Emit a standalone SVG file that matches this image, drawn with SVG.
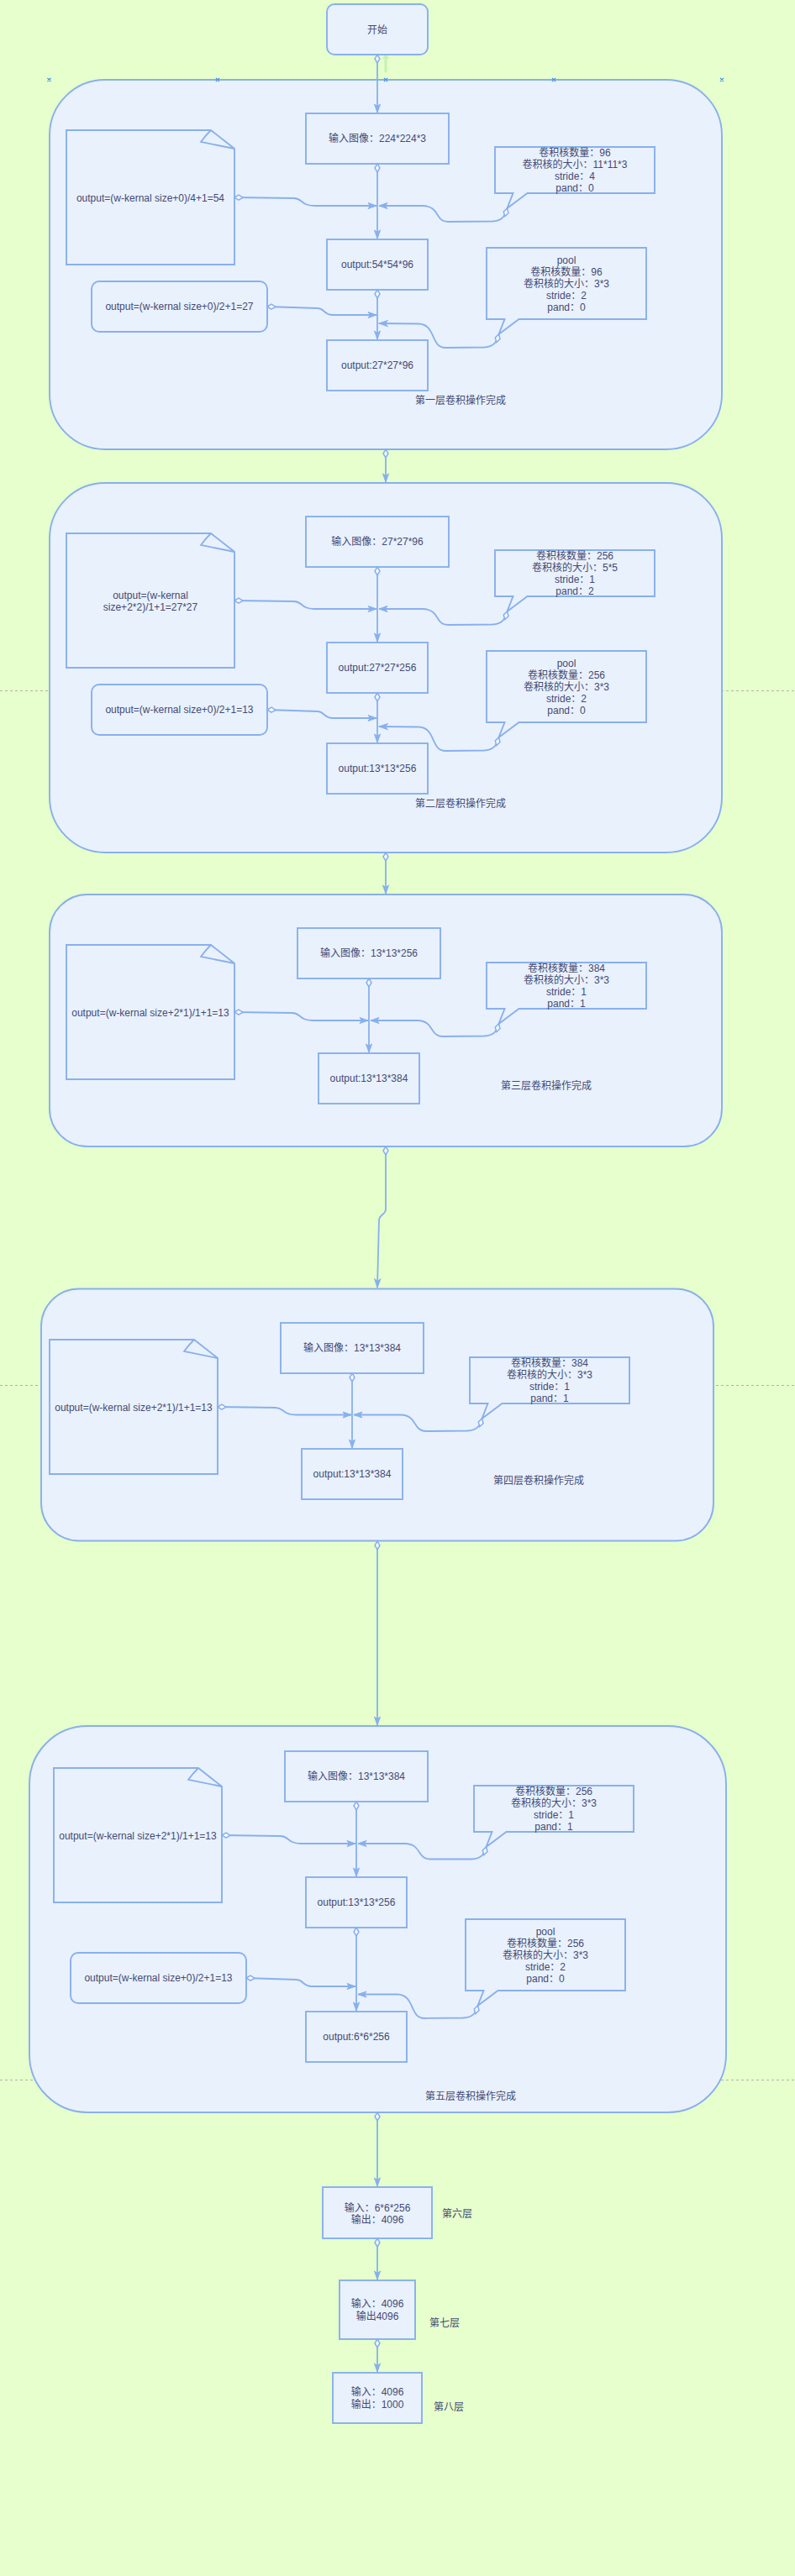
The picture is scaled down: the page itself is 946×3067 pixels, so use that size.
<svg xmlns="http://www.w3.org/2000/svg" width="946" height="3067" viewBox="0 0 946 3067">
<style>
.bg{fill:#E6FFCC}
.box{fill:#E9F1FD;stroke:#88B0EC;stroke-width:1.9}
.t{font-family:"Liberation Sans","Noto Sans CJK SC",sans-serif;font-size:12px;fill:#434A72;text-anchor:middle}
.c{fill:none;stroke:#88B0EC;stroke-width:1.8}
.cd{marker-start:url(#d);marker-end:url(#a)}
.pb{stroke:#B4B4A8;stroke-width:1;stroke-dasharray:3 3}
.xm{stroke:#3D8FE0;stroke-width:1.2}
</style>
<defs>
<marker id="a" viewBox="0 0 10 8" refX="10" refY="4" markerWidth="10" markerHeight="8" markerUnits="userSpaceOnUse" orient="auto" style="overflow:visible"><path d="M0,0.5 L10,4 L0,7.5 L2.5,4 Z" fill="#88B0EC" stroke="#88B0EC" stroke-width="1"/></marker>
<marker id="d" viewBox="0 0 12 8" refX="1" refY="4" markerWidth="12" markerHeight="8" markerUnits="userSpaceOnUse" orient="auto" style="overflow:visible"><path d="M1,4 L6,1 L11,4 L6,7 Z" fill="#F5F9FF" stroke="#88B0EC" stroke-width="1.5"/></marker>
</defs>
<rect class="bg" x="0" y="0" width="946" height="3067"/>
<g id="pagebreaks">
<line class="pb" x1="0" y1="822.5" x2="946" y2="822.5"/>
<line class="pb" x1="0" y1="1649.5" x2="946" y2="1649.5"/>
<line class="pb" x1="0" y1="2476.5" x2="946" y2="2476.5"/>
</g>

<g id="layer1">
<rect class="box" x="59" y="95" width="800" height="440" rx="66"/>
<text class="t" x="548" y="481">第一层卷积操作完成</text>
</g>
<g id="layer2">
<rect class="box" x="59" y="575" width="800" height="440" rx="66"/>
<text class="t" x="548" y="961">第二层卷积操作完成</text>
</g>
<g id="layer3">
<rect class="box" x="59" y="1065" width="800" height="300" rx="45"/>
<text class="t" x="650" y="1297">第三层卷积操作完成</text>
</g>
<g id="layer4">
<rect class="box" x="49" y="1534.5" width="800" height="300" rx="45"/>
<text class="t" x="641" y="1767">第四层卷积操作完成</text>
</g>
<g id="layer5">
<rect class="box" x="35" y="2055" width="829" height="460" rx="69"/>
<text class="t" x="560" y="2500">第五层卷积操作完成</text>
</g>

<g id="markers-x">
<path class="xm" d="M56.5,93 l4,4 m0,-4 l-4,4 M257,93 l4,4 m0,-4 l-4,4 M457,93 l4,4 m0,-4 l-4,4 M657,93 l4,4 m0,-4 l-4,4 M857,93 l4,4 m0,-4 l-4,4"/>
</g>
<g id="hint">
<path d="M459,86 V69" stroke="#C6F1B2" stroke-width="3" fill="none"/>
<path d="M455,70 L459,63 L463,70 Z" fill="#C6F1B2"/>
</g>

<g id="start"><rect class="box" x="389" y="5" width="120" height="60" rx="9"/><text class="t" x="449" y="40">开始</text></g>

<g id="l1-input"><rect class="box" x="364" y="135" width="170" height="60"/><text class="t" x="449" y="169">输入图像：224*224*3</text></g>
<g id="l1-out1"><rect class="box" x="389" y="285" width="120" height="60"/><text class="t" x="449" y="319">output:54*54*96</text></g>
<g id="l1-out2"><rect class="box" x="389" y="405" width="120" height="60"/><text class="t" x="449" y="439">output:27*27*96</text></g>
<g id="l1-note1"><path class="box" d="M79,155 H251 L279,177 V315 H79 Z"/><path class="c" d="M251,155 Q244,162 239,169 L279,177"/><text class="t" x="179" y="239.5">output=(w-kernal size+0)/4+1=54</text></g>
<g id="l1-call1"><path class="box" d="M589,175 H779 V230 H627.5 L603.5,248 L610.5,230 H589 Z"/>
<text class="t" x="684" y="185.5">卷积核数量：96</text><text class="t" x="684" y="199.5">卷积核的大小：11*11*3</text><text class="t" x="684" y="213.5">stride：4</text><text class="t" x="684" y="227.5">pand：0</text></g>
<g id="l1-note2"><rect class="box" x="109" y="335" width="209" height="60" rx="9"/><text class="t" x="213.5" y="369">output=(w-kernal size+0)/2+1=27</text></g>
<g id="l1-call2"><path class="box" d="M579,295 H769 V380 H617.5 L593.5,398 L600.5,380 H579 Z"/>
<text class="t" x="674" y="313.5">pool</text><text class="t" x="674" y="327.5">卷积核数量：96</text><text class="t" x="674" y="341.5">卷积核的大小：3*3</text><text class="t" x="674" y="355.5">stride：2</text><text class="t" x="674" y="369.5">pand：0</text></g>

<g id="l2-input"><rect class="box" x="364" y="615" width="170" height="60"/><text class="t" x="449" y="649">输入图像：27*27*96</text></g>
<g id="l2-out1"><rect class="box" x="389" y="765" width="120" height="60"/><text class="t" x="449" y="799">output:27*27*256</text></g>
<g id="l2-out2"><rect class="box" x="389" y="885" width="120" height="60"/><text class="t" x="449" y="919">output:13*13*256</text></g>
<g id="l2-note1"><path class="box" d="M79,635 H251 L279,657 V795 H79 Z"/><path class="c" d="M251,635 Q244,642 239,649 L279,657"/><text class="t" x="179" y="712.5">output=(w-kernal</text><text class="t" x="179" y="726.5">size+2*2)/1+1=27*27</text></g>
<g id="l2-call1"><path class="box" d="M589,655 H779 V710 H627.5 L603.5,728 L610.5,710 H589 Z"/>
<text class="t" x="684" y="665.5">卷积核数量：256</text><text class="t" x="684" y="679.5">卷积核的大小：5*5</text><text class="t" x="684" y="693.5">stride：1</text><text class="t" x="684" y="707.5">pand：2</text></g>
<g id="l2-note2"><rect class="box" x="109" y="815" width="209" height="60" rx="9"/><text class="t" x="213.5" y="849">output=(w-kernal size+0)/2+1=13</text></g>
<g id="l2-call2"><path class="box" d="M579,775 H769 V860 H617.5 L593.5,878 L600.5,860 H579 Z"/>
<text class="t" x="674" y="793.5">pool</text><text class="t" x="674" y="807.5">卷积核数量：256</text><text class="t" x="674" y="821.5">卷积核的大小：3*3</text><text class="t" x="674" y="835.5">stride：2</text><text class="t" x="674" y="849.5">pand：0</text></g>

<g id="l3-input"><rect class="box" x="354" y="1105" width="170" height="60"/><text class="t" x="439" y="1139">输入图像：13*13*256</text></g>
<g id="l3-out"><rect class="box" x="379" y="1254" width="120" height="60"/><text class="t" x="439" y="1288">output:13*13*384</text></g>
<g id="l3-note"><path class="box" d="M79,1125 H251 L279,1147 V1285 H79 Z"/><path class="c" d="M251,1125 Q244,1132 239,1139 L279,1147"/><text class="t" x="179" y="1209.5">output=(w-kernal size+2*1)/1+1=13</text></g>
<g id="l3-call"><path class="box" d="M579,1146 H769 V1201 H617.5 L593.5,1219 L600.5,1201 H579 Z"/>
<text class="t" x="674" y="1156.5">卷积核数量：384</text><text class="t" x="674" y="1170.5">卷积核的大小：3*3</text><text class="t" x="674" y="1184.5">stride：1</text><text class="t" x="674" y="1198.5">pand：1</text></g>

<g id="l4-input"><rect class="box" x="334" y="1575" width="170" height="60"/><text class="t" x="419" y="1609">输入图像：13*13*384</text></g>
<g id="l4-out"><rect class="box" x="359" y="1725" width="120" height="60"/><text class="t" x="419" y="1759">output:13*13*384</text></g>
<g id="l4-note"><path class="box" d="M59,1595 H231 L259,1617 V1755 H59 Z"/><path class="c" d="M231,1595 Q224,1602 219,1609 L259,1617"/><text class="t" x="159" y="1679.5">output=(w-kernal size+2*1)/1+1=13</text></g>
<g id="l4-call"><path class="box" d="M559,1616 H749 V1671 H597.5 L573.5,1689 L580.5,1671 H559 Z"/>
<text class="t" x="654" y="1626.5">卷积核数量：384</text><text class="t" x="654" y="1640.5">卷积核的大小：3*3</text><text class="t" x="654" y="1654.5">stride：1</text><text class="t" x="654" y="1668.5">pand：1</text></g>

<g id="l5-input"><rect class="box" x="339" y="2085" width="170" height="60"/><text class="t" x="424" y="2119">输入图像：13*13*384</text></g>
<g id="l5-out1"><rect class="box" x="364" y="2235" width="120" height="60"/><text class="t" x="424" y="2269">output:13*13*256</text></g>
<g id="l5-out2"><rect class="box" x="364" y="2395" width="120" height="60"/><text class="t" x="424" y="2429">output:6*6*256</text></g>
<g id="l5-note1"><path class="box" d="M64,2105 H236 L264,2127 V2265 H64 Z"/><path class="c" d="M236,2105 Q229,2112 224,2119 L264,2127"/><text class="t" x="164" y="2189.5">output=(w-kernal size+2*1)/1+1=13</text></g>
<g id="l5-call1"><path class="box" d="M564,2126 H754 V2181 H602.5 L578.5,2199 L585.5,2181 H564 Z"/>
<text class="t" x="659" y="2136.5">卷积核数量：256</text><text class="t" x="659" y="2150.5">卷积核的大小：3*3</text><text class="t" x="659" y="2164.5">stride：1</text><text class="t" x="659" y="2178.5">pand：1</text></g>
<g id="l5-note2"><rect class="box" x="84" y="2325" width="209" height="60" rx="9"/><text class="t" x="188.5" y="2359">output=(w-kernal size+0)/2+1=13</text></g>
<g id="l5-call2"><path class="box" d="M554,2285 H744 V2370 H592.5 L568.5,2388 L575.5,2370 H554 Z"/>
<text class="t" x="649" y="2303.5">pool</text><text class="t" x="649" y="2317.5">卷积核数量：256</text><text class="t" x="649" y="2331.5">卷积核的大小：3*3</text><text class="t" x="649" y="2345.5">stride：2</text><text class="t" x="649" y="2359.5">pand：0</text></g>

<g id="fc6"><rect class="box" x="384" y="2604" width="130" height="61"/><text class="t" x="449" y="2632.7">输入：6*6*256</text><text class="t" x="449" y="2646.7">输出：4096</text><text class="t" x="544" y="2640">第六层</text></g>
<g id="fc7"><rect class="box" x="404" y="2715" width="90" height="70"/><text class="t" x="449" y="2747.3">输入：4096</text><text class="t" x="449" y="2761.7">输出4096</text><text class="t" x="529" y="2770">第七层</text></g>
<g id="fc8"><rect class="box" x="396" y="2825" width="106" height="60"/><text class="t" x="449" y="2852.3">输入：4096</text><text class="t" x="449" y="2866.7">输出：1000</text><text class="t" x="534" y="2870">第八层</text></g>

<g id="connectors">
<path class="c cd" d="M449,65 L449,134"/>
<path class="c cd" d="M449,195 L449,284"/>
<path class="c cd" d="M449,345 L449,404"/>
<path class="c cd" d="M459,535 L459,574"/>
<path class="c cd" d="M449,675 L449,764"/>
<path class="c cd" d="M449,825 L449,884"/>
<path class="c cd" d="M459,1015 L459,1064"/>
<path class="c cd" d="M439,1165 L439,1253"/>
<path class="c cd" d="M459,1365 L459,1440 C459,1446 451,1446 451,1453 L449,1533"/>
<path class="c cd" d="M419,1635 L419,1724"/>
<path class="c cd" d="M449,1835 L449,2054"/>
<path class="c cd" d="M424,2145 L424,2234"/>
<path class="c cd" d="M424,2295 L424,2394"/>
<path class="c cd" d="M449,2515 L449,2603"/>
<path class="c cd" d="M449,2665 L449,2714"/>
<path class="c cd" d="M449,2785 L449,2824"/>
<path class="c cd" d="M279,235 L350,236 C360,236 358,245 374,245 L448,245"/>
<path class="c cd" d="M603.5,248 C601,257 598,263 586,263.5 L533,264 C517,264 524,245.5 503,245 L451,245"/>
<path class="c cd" d="M318,365 L378,367 C386,367 385,375 396,375 L448,375"/>
<path class="c cd" d="M593.5,398 C591,407 588,413 576,413.5 L530,414 C512,414 519,386 498,385.5 L451,385"/>
<path class="c cd" d="M279,715 L350,716 C360,716 358,725 374,725 L448,725"/>
<path class="c cd" d="M603.5,728 C601,737 598,743 586,743.5 L533,744 C517,744 524,725.5 503,725 L451,725"/>
<path class="c cd" d="M318,845 L378,847 C386,847 385,855 396,855 L448,855"/>
<path class="c cd" d="M593.5,878 C591,887 588,893 576,893.5 L530,894 C512,894 519,866 498,865.5 L451,865"/>
<path class="c cd" d="M279,1205 L348,1206 C358,1206 356,1215 372,1215 L438,1215"/>
<path class="c cd" d="M593.5,1219 C591,1228 588,1233 576,1233.5 L527,1234 C511,1234 517,1215.5 497,1215 L441,1215"/>
<path class="c cd" d="M259,1675 L328,1676 C338,1676 336,1684.5 352,1684.5 L418,1684.5"/>
<path class="c cd" d="M573.5,1689 C571,1698 568,1703 556,1703.5 L507,1704 C491,1704 497,1685 477,1684.5 L421,1684.5"/>
<path class="c cd" d="M264,2185 L334,2186 C344,2186 342,2195 358,2195 L423,2195"/>
<path class="c cd" d="M578.5,2199 C576,2208 573,2213 561,2213.5 L512,2213.5 C496,2213.5 502,2195.5 482,2195 L426,2195"/>
<path class="c cd" d="M293,2355 L353,2357 C361,2357 360,2365 371,2365 L423,2365"/>
<path class="c cd" d="M568.5,2388 C566,2397 563,2402 551,2402.5 L505,2403 C487,2403 494,2375 473,2374.5 L426,2374.5"/>
</g>
</svg>
